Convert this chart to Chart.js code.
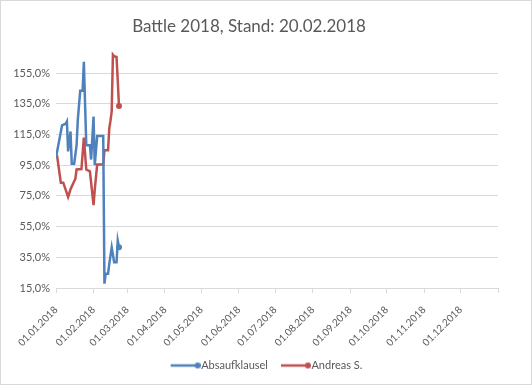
<!DOCTYPE html>
<html lang="de">
  <head>
    <meta charset="UTF-8" />
    <title>Battle 2018</title>
    <script src="https://cdn.jsdelivr.net/npm/chart.js@4.4.1/dist/chart.umd.min.js"></script>
    <style>
      body { margin: 0; background: #fff; }
    </style>
  </head>
  <body>
    <canvas id="myChart" width="532" height="385"></canvas>

    <script>
      // data (dates of 2018, values in %)
      const absDates = ["01.01", "06.01", "09.01", "10.01", "11.01", "13.01", "14.01", "16.01", "18.01", "19.01",
        "21.01", "23.01", "24.01", "26.01", "29.01", "30.01", "01.02", "02.02", "04.02", "09.02",
        "10.02", "11.02", "13.02", "14.02", "16.02", "18.02", "20.02", "21.02", "22.02"];
      const absValues = [100, 121, 122, 123.5, 104, 117, 96, 96, 108, 124.5,
        143.5, 143.5, 162.3, 108, 108, 98.7, 126.7, 95, 114, 114,
        17.8, 24.3, 24.3, 30.7, 41.5, 31.8, 31.8, 45.8, 41.5];

      const andDates = ["01.01", "02.01", "05.01", "07.01", "11.01", "13.01", "17.01", "18.01", "22.01", "24.01",
        "26.01", "29.01", "01.02", "02.02", "04.02", "09.02", "10.02", "13.02", "14.02", "15.02",
        "16.02", "17.02", "18.02", "20.02", "21.02", "22.02"];
      const andValues = [100, 100.5, 83.6, 83.6, 74.3, 79.3, 86.2, 92.2, 92.5, 113,
        92.2, 91, 69, 79, 95.4, 95.4, 104.7, 104.7, 119, 124,
        130, 167, 166, 165.5, 150, 133.6];

      const monthLabels = ["01.01.2018", "01.02.2018", "01.03.2018", "01.04.2018", "01.05.2018", "01.06.2018",
        "01.07.2018", "01.08.2018", "01.09.2018", "01.10.2018", "01.11.2018", "01.12.2018"];
      const seriesNames = ["Absaufklausel", "Andreas S."];

      const font = "Lato";
      const grey = "#595959";
      const colors = ["#4f81bd", "#c0504d"];

      function dayOfYear(s) {
        const p = s.split(".");
        return (Date.UTC(2018, +p[1] - 1, +p[0]) - Date.UTC(2018, 0, 1)) / 864e5;
      }
      const monthStarts = monthLabels.map(dayOfYear).concat([365]);

      function toPoints(dates, values) {
        return dates.map((d, i) => ({ x: dayOfYear(d), y: values[i] }));
      }

      // legend marker: line with a dot at the right end
      function legendIcon(color) {
        const c = document.createElement("canvas");
        c.width = 36;
        c.height = 8;
        const g = c.getContext("2d");
        g.strokeStyle = color;
        g.lineWidth = 2.5;
        g.beginPath();
        g.moveTo(6, 4);
        g.lineTo(33, 4);
        g.stroke();
        g.fillStyle = color;
        g.beginPath();
        g.arc(33, 4, 3, 0, Math.PI * 2);
        g.fill();
        return c;
      }

      const frame = {
        id: "frame",
        beforeDraw(chart) {
          const c = chart.ctx;
          c.save();
          c.fillStyle = "#fff";
          c.fillRect(0, 0, chart.width, chart.height);
          c.strokeStyle = "#d9d9d9";
          c.lineWidth = 1;
          c.strokeRect(0.5, 0.5, chart.width - 1, chart.height - 1);
          c.restore();
        },
        // center the legend on the whole canvas, not on the padded area
        afterLayout(chart) {
          chart.legend.left = 0;
          chart.legend.right = chart.width;
        },
      };

      function lastOnly(r) {
        return (ctx) => (ctx.dataIndex === ctx.dataset.data.length - 1 ? r : 0);
      }

      new Chart(document.getElementById("myChart"), {
        type: "line",
        data: {
          datasets: [
            {
              label: seriesNames[0],
              data: toPoints(absDates, absValues),
              borderColor: colors[0],
              backgroundColor: colors[0],
              borderWidth: 2.5,
              pointRadius: lastOnly(3),
              pointBorderWidth: 0,
              tension: 0,
            },
            {
              label: seriesNames[1],
              data: toPoints(andDates, andValues),
              borderColor: colors[1],
              backgroundColor: colors[1],
              borderWidth: 2.5,
              pointRadius: lastOnly(3),
              pointBorderWidth: 0,
              tension: 0,
            },
          ],
        },
        options: {
          responsive: false,
          animation: false,
          events: [],
          layout: { padding: { left: 0, right: 34, top: 0, bottom: 4 } },
          plugins: {
            title: {
              display: true,
              text: "Battle 2018, Stand: 20.02.2018",
              color: grey,
              font: { family: font, size: 17, weight: "normal" },
              padding: { top: 16, bottom: 6 },
            },
            legend: {
              position: "bottom",
              labels: {
                usePointStyle: true,
                pointStyleWidth: 26,
                color: grey,
                font: { family: font, size: 11 },
                padding: 12,
                generateLabels(chart) {
                  return chart.data.datasets.map((ds, i) => ({
                    text: ds.label,
                    pointStyle: legendIcon(colors[i]),
                    fillStyle: colors[i],
                    strokeStyle: colors[i],
                    fontColor: grey,
                    lineWidth: 0,
                    datasetIndex: i,
                  }));
                },
              },
            },
            tooltip: { enabled: false },
          },
          scales: {
            x: {
              type: "linear",
              min: 0,
              max: 365,
              afterBuildTicks(scale) {
                scale.ticks = monthStarts.map((v) => ({ value: v }));
              },
              afterFit(scale) {
                scale.height = 60;
              },
              grid: { drawOnChartArea: false, drawTicks: true, tickLength: 5, tickColor: "#d9d9d9" },
              border: { color: "#d9d9d9" },
              ticks: {
                autoSkip: false,
                maxRotation: 45,
                minRotation: 45,
                padding: 11,
                color: grey,
                font: { family: font, size: 10 },
                callback(v, i) {
                  return i < monthLabels.length ? monthLabels[i] : "";
                },
              },
            },
            y: {
              min: 15,
              max: 175,
              afterFit(scale) {
                scale.width = 56;
              },
              grid: {
                drawTicks: false,
                color: (ctx) => (ctx.tick && ctx.tick.value === 175 ? "rgba(0,0,0,0)" : "#d9d9d9"),
              },
              border: { display: false },
              ticks: {
                stepSize: 20,
                padding: 6,
                color: grey,
                font: { family: font, size: 11 },
                callback(v) {
                  return v === 175 ? "" : v.toFixed(1).replace(".", ",") + "%";
                },
              },
            },
          },
        },
        plugins: [frame],
      });
    </script>
  </body>
</html>
